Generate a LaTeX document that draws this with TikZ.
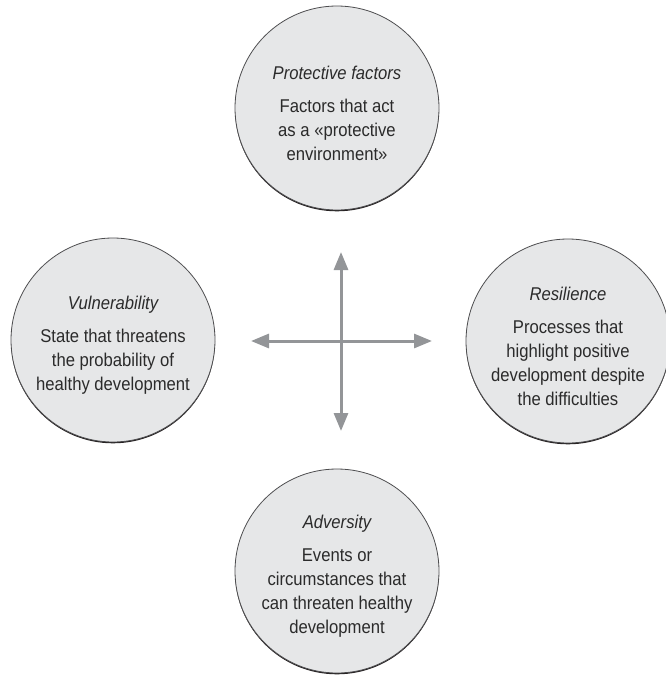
\documentclass[tikz,border=0pt]{standalone}
\usepackage{fontspec}
\setmainfont[FakeStretch=0.9]{Liberation Sans}
\usepackage{tikz}
\usetikzlibrary{arrows.meta}

\definecolor{discfill}{HTML}{E6E7E8}
\definecolor{discline}{HTML}{4D4D4F}
\definecolor{discshade}{HTML}{231F20}
\definecolor{armgray}{HTML}{939598}
\definecolor{inkgray}{HTML}{2B2B2B}

\newcommand{\toptitle}[1]{\rule{0pt}{24pt}{\itshape #1}\\[9pt]}

\tikzset{
    disc/.style={circle, draw=discline, line width=0.8pt, fill=discfill,
        preaction={fill=discshade, transform canvas={yshift=-1.3pt}},
        minimum size=204pt, inner sep=0pt, align=center, text=inkgray,
        font=\fontsize{18.5}{24}\selectfont},
    arm/.style={draw=armgray, line width=3pt,
        -{Triangle[length=18pt,width=14pt]}}
}

\begin{document}
\begin{tikzpicture}[x=1pt,y=-1pt]
    \useasboundingbox (0,0) rectangle (665,675);

    % Circles
    \node[disc] (protect) at (337,108)
        {\toptitle{Protective factors}
         Factors that act\\ as a «protective\\ environment»};
    \node[disc] (vulner) at (113,340)
        {\toptitle{Vulnerability}
         State that threatens\\ the probability of\\ healthy development};
    \node[disc] (resil) at (568,341)
        {\toptitle{Resilience}
         Processes that\\ highlight positive\\ development despite\\ the difficulties};
    \node[disc] (advers) at (337,571)
        {\toptitle{Adversity}
         Events or\\ circumstances that\\ can threaten healthy\\ development};

    % Cross arrows
    \coordinate (hub) at (341,341);
    \coordinate (upTip) at (341,252);
    \coordinate (downTip) at (341,431);
    \coordinate (leftTip) at (251,341);
    \coordinate (rightTip) at (432,341);

    \draw[arm] (hub) -- (upTip);
    \draw[arm] (hub) -- (downTip);
    \draw[arm] (hub) -- (leftTip);
    \draw[arm] (hub) -- (rightTip);
\end{tikzpicture}
\end{document}
